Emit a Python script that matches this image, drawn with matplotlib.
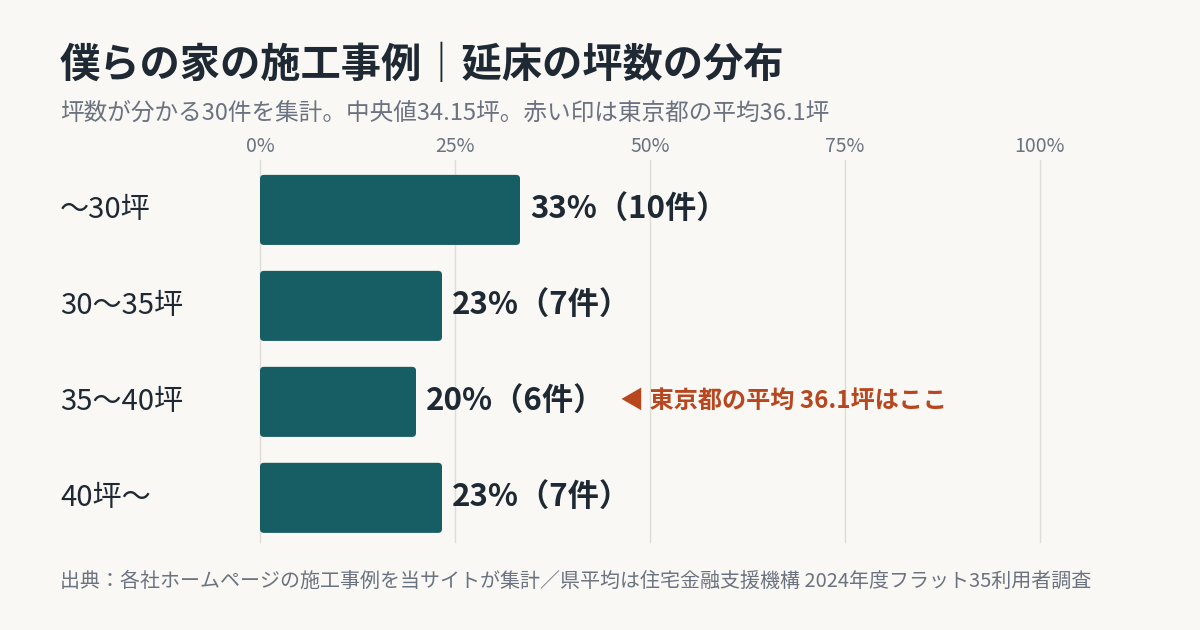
import numpy as np
import matplotlib
matplotlib.use("Agg")
import matplotlib.pyplot as plt
from matplotlib.patches import FancyBboxPatch

plt.rcParams['font.family'] = ['Noto Sans CJK JP', 'DejaVu Sans']

# data
categories = ['～30坪', '30～35坪', '35～40坪', '40坪～']
counts = [10, 7, 6, 7]
total = 30
shares = [c / total * 100 for c in counts]
ticks = [0, 25, 50, 75, 100]
tokyo_row = 2

bg = '#f9f8f4'
bar_col = '#165e63'
dark = '#1f2933'
grey = '#6b7280'
accent = '#b8461f'

fig = plt.figure(figsize=(12, 6.3), dpi=100, facecolor=bg)
ax = fig.add_axes([260/1200, 1-542/630, 780/1200, 382/630])
ax.set_facecolor(bg)

y = np.arange(len(categories))
bars = ax.barh(y, shares, height=0.73, color=bar_col, zorder=2)

# rounded corners: swap the plain rectangles for rounded ones
for b in bars:
    x0, y0 = b.get_x(), b.get_y()
    w, h = b.get_width(), b.get_height()
    b.set_visible(False)
    rp = FancyBboxPatch((x0, y0), w, h, boxstyle="round,pad=0,rounding_size=0.5",
                        mutation_aspect=0.082, fc=bar_col, ec='none', zorder=2)
    ax.add_patch(rp)

ax.set_xlim(0, 100)
ax.set_ylim(3.46, -0.52)
ax.set_xticks(ticks)
ax.set_xticklabels([f'{t}%' for t in ticks])
ax.xaxis.tick_top()
ax.tick_params(axis='x', length=0, labelsize=14, labelcolor=grey, pad=2)
ax.set_yticks([])
for t in ticks:
    ax.axvline(t, color='#dedcd6', linewidth=1, zorder=0, clip_on=False)
for s in ax.spines.values():
    s.set_visible(False)

for i, (cat, sh, c) in enumerate(zip(categories, shares, counts)):
    ax.text(-200/7.8, i, cat, ha='left', va='center', fontsize=21, color=dark)
    ax.text(sh + 1.3, i, f'{sh:.0f}%（{c}件）', ha='left', va='center',
            fontsize=22.5, fontweight='bold', color=dark)

ax.text(46.2, tokyo_row, '◀ 東京都の平均 36.1坪はここ', ha='left', va='center',
        fontsize=17.4, fontweight='bold', color=accent)

fig.text(60/1200, 1-66/630, '僕らの家の施工事例｜延床の坪数の分布', ha='left', va='center',
         fontsize=29, fontweight='bold', color=dark)
fig.text(60/1200, 1-113/630, '坪数が分かる30件を集計。中央値34.15坪。赤い印は東京都の平均36.1坪',
         ha='left', va='center', fontsize=17, color=grey)
fig.text(60/1200, 1-581/630,
         '出典：各社ホームページの施工事例を当サイトが集計／県平均は住宅金融支援機構 2024年度フラット35利用者調査',
         ha='left', va='center', fontsize=14.4, color=grey)

fig.savefig('out.png', dpi=100, facecolor=bg)
